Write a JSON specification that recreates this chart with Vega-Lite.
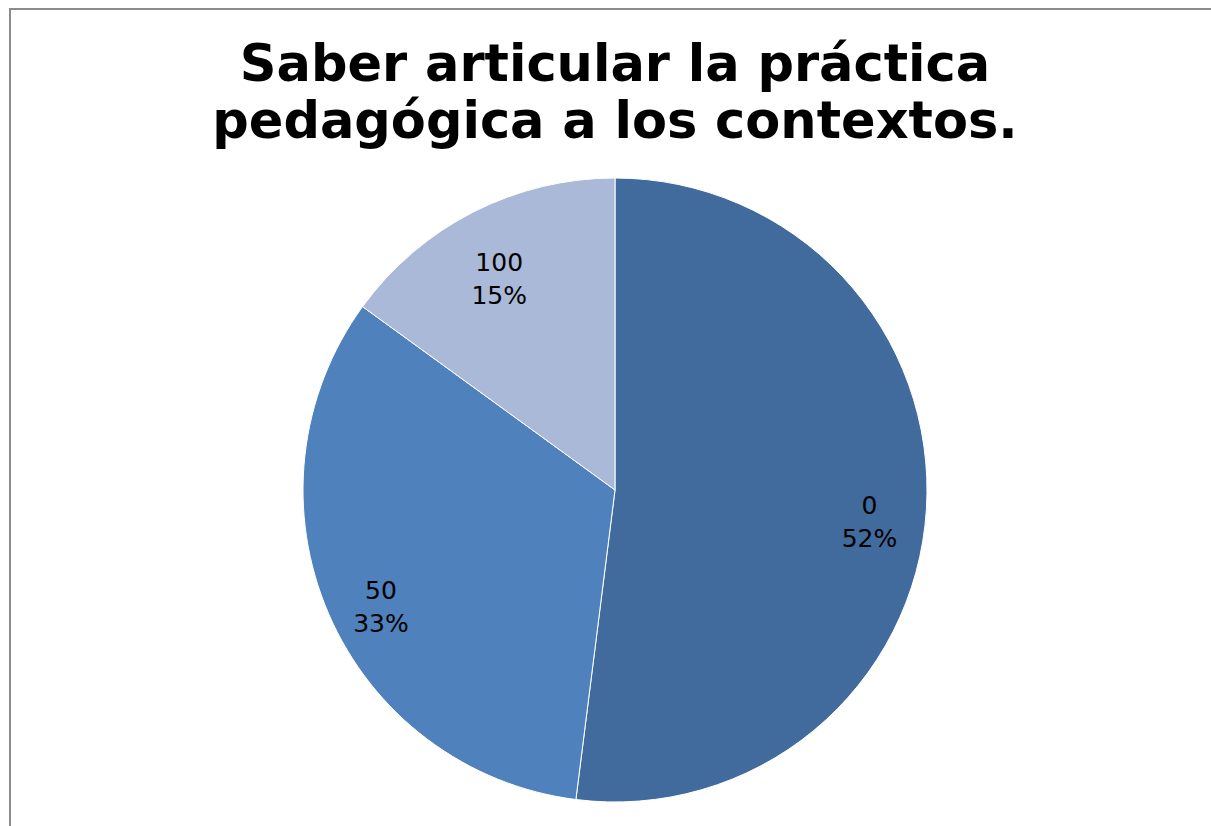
{
  "$schema": "https://vega.github.io/schema/vega-lite/v6.json",
  "autosize": "none",
  "width": 1210,
  "height": 962,
  "padding": {"left": 10, "top": 9, "right": -9, "bottom": -145},
  "background": "white",
  "view": {"stroke": "#8c8c8c", "strokeWidth": 2, "fill": "white"},
  "title": {
    "text": ["Saber articular la práctica", "pedagógica a los contextos."],
    "orient": "top",
    "anchor": "middle",
    "offset": -140,
    "font": "DejaVu Sans",
    "fontSize": 51,
    "fontWeight": "bold",
    "color": "#000000",
    "lineHeight": 57
  },
  "data": {
    "values": [
      {"category": "0", "value": 52, "ord": 1, "lines": ["0", "52%"]},
      {"category": "50", "value": 33, "ord": 2, "lines": ["50", "33%"]},
      {"category": "100", "value": 15, "ord": 3, "lines": ["100", "15%"]}
    ]
  },
  "encoding": {
    "theta": {"field": "value", "type": "quantitative", "stack": true},
    "order": {"field": "ord", "type": "quantitative"},
    "color": {
      "field": "category",
      "type": "nominal",
      "scale": {"domain": ["0", "50", "100"], "range": ["#416a9d", "#4f81bd", "#aab9d8"]},
      "legend": null
    }
  },
  "layer": [
    {
      "mark": {"type": "arc", "outerRadius": 312, "stroke": "#ffffff", "strokeWidth": 1}
    },
    {
      "mark": {"type": "text", "radius": 255, "font": "DejaVu Sans", "fontSize": 25, "lineHeight": 33, "fill": "#000000", "align": "center", "baseline": "middle"},
      "encoding": {
        "text": {"field": "lines"},
        "color": {"value": "#000000"}
      }
    }
  ]
}
